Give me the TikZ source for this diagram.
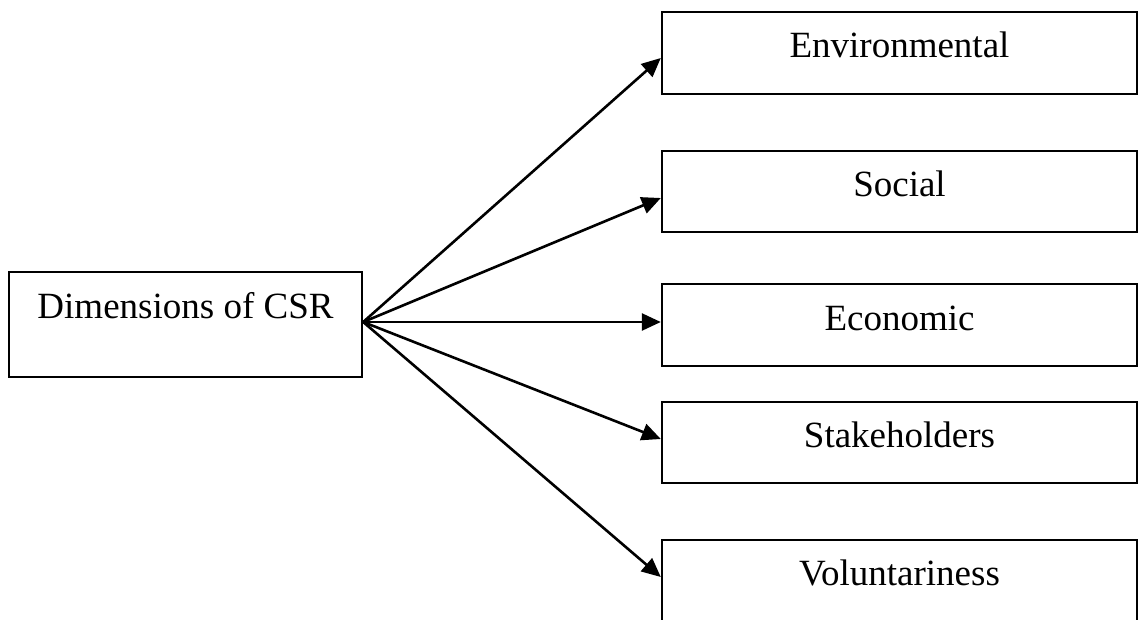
\documentclass[tikz,border=0pt]{standalone}
\usepackage{fontspec}
\setmainfont{Liberation Serif}
\usetikzlibrary{arrows.meta}
\begin{document}
\begin{tikzpicture}[x=1pt,y=-1pt,
  box/.style={draw=black,line width=2.4pt,minimum width=475pt,minimum height=82pt,inner sep=0pt},
  lbl/.style={anchor=base,inner sep=0pt,font=\fontsize{37}{44}\selectfont},
  conn/.style={line width=2.6pt,-{Triangle[length=19pt,width=17pt]}}]
\useasboundingbox (0,0) rectangle (1140,619);
\clip (0,0) rectangle (1140,619);
% source box
\node[box,minimum width=353pt,minimum height=105pt] (dim) at (185.5,324.5) {};
\node[lbl] at (185.5,318) {Dimensions of CSR};
% target boxes
\node[box] (env) at (899.5,53) {};
\node[lbl] at (899.5,57) {Environmental};
\node[box,minimum height=81pt] (soc) at (899.5,191.5) {};
\node[lbl] at (899.5,196) {Social};
\node[box] (eco) at (899.5,325) {};
\node[lbl] at (899.5,330) {Economic};
\node[box,minimum height=81pt] (sta) at (899.5,442.5) {};
\node[lbl] at (899.5,447) {Stakeholders};
\node[box] (vol) at (899.5,581) {};
\node[lbl] at (899.5,585) {Voluntariness};
% connectors
\coordinate (src) at ([yshift=2.5pt]dim.east);
\draw[conn] (src) -- ([yshift=-5pt]env.west);
\draw[conn] (src) -- ([yshift=-6.5pt]soc.west);
\draw[conn] (src) -- ([yshift=3pt]eco.west);
\draw[conn] (src) -- ([yshift=3.5pt]sta.west);
\draw[conn] (src) -- ([yshift=4pt]vol.west);
\end{tikzpicture}
\end{document}
